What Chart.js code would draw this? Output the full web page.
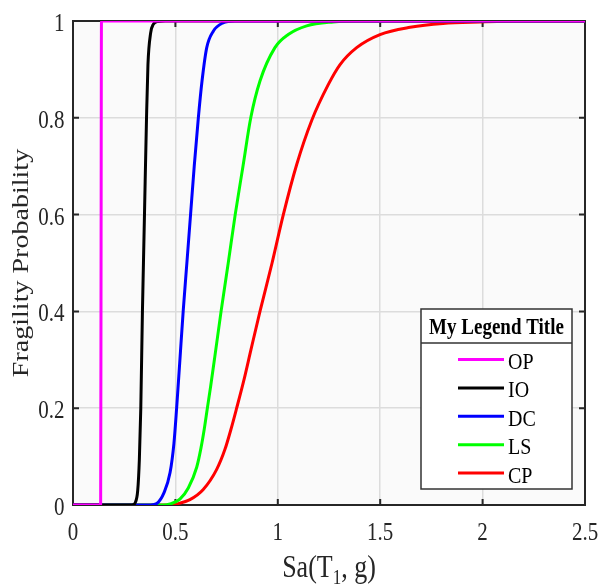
<!DOCTYPE html>
<html>
<head>
  <meta charset="utf-8" />
  <title>Fragility curves</title>
  <style>
html, body { margin: 0; padding: 0; background: #fff; }
#wrap { width: 600px; height: 586px; }
  </style>
</head>
<body>
  <div id="wrap"><canvas id="myChart"></canvas></div>
  <script src="https://cdn.jsdelivr.net/npm/chart.js"></script>
  <script>
// values
const labels = ['OP', 'IO', 'DC', 'LS', 'CP'];
const colors = ['#ff00ff', '#000000', '#0000ff', '#00ff00', '#ff0000'];

const opX = [0, 0.135, 0.137, 0.139, 2.5];
const opY = [0, 0, 0.5, 1, 1];

const ioX = [0, 0.28, 0.295, 0.303, 0.316, 0.324, 0.331, 0.339, 0.344, 0.349, 0.359, 0.366, 0.379, 0.392, 0.415, 0.45, 2.5];
const ioY = [0, 0, 0.001, 0.004, 0.03, 0.094, 0.2, 0.4, 0.5, 0.6, 0.8, 0.91, 0.975, 0.993, 0.999, 1, 1];

const dcX = [0, 0.38, 0.409, 0.444, 0.474, 0.493, 0.506, 0.522, 0.538, 0.556, 0.574, 0.592, 0.612, 0.630, 0.653, 0.685, 0.732, 0.79, 2.5];
const dcY = [0, 0, 0.003, 0.025, 0.067, 0.128, 0.2, 0.3, 0.4, 0.5, 0.6, 0.7, 0.8, 0.876, 0.945, 0.979, 0.996, 1, 1];

const lsX = [0, 0.44, 0.474, 0.522, 0.563, 0.604, 0.625, 0.641, 0.656, 0.672, 0.692, 0.723, 0.758, 0.792, 0.830, 0.868, 0.913, 0.986, 1.051, 1.141, 1.271, 1.40, 2.5];
const lsY = [0, 0, 0.002, 0.012, 0.035, 0.078, 0.118, 0.157, 0.2, 0.245, 0.305, 0.4, 0.5, 0.6, 0.7, 0.8, 0.876, 0.945, 0.972, 0.99, 0.998, 1, 1];

const cpX = [0, 0.47, 0.506, 0.571, 0.636, 0.701, 0.742, 0.771, 0.799, 0.835, 0.869, 0.913, 0.972, 1.027, 1.092, 1.166, 1.247, 1.304, 1.385, 1.499, 1.646, 1.807, 1.987, 2.2, 2.5];
const cpY = [0, 0, 0.002, 0.011, 0.032, 0.073, 0.115, 0.156, 0.2, 0.259, 0.321, 0.4, 0.5, 0.6, 0.703, 0.795, 0.869, 0.910, 0.945, 0.972, 0.987, 0.995, 0.998, 1, 1];

const xTicks = [0, 0.5, 1, 1.5, 2, 2.5];
const yTicks = [0, 0.2, 0.4, 0.6, 0.8, 1];

const legendTitle = 'My Legend Title';
const xTitle = ['Sa(T', '1', ', g)'];  // base, subscript, rest
const yTitle = 'Fragility Probability';

const serif = '"Liberation Serif", "Times New Roman", serif';
const ink = '#262626';
const SY = 1.18; // the reference text is a bit taller than wide

function pts(xs, ys) {
  return xs.map((x, i) => ({x: x, y: ys[i]}));
}
const series = [[opX, opY], [ioX, ioY], [dcX, dcY], [lsX, lsY], [cpX, cpY]];

const datasets = series.map((s, i) => ({
  label: labels[i],
  data: pts(s[0], s[1]),
  borderColor: colors[i],
  backgroundColor: colors[i],
  borderWidth: 3,
  pointRadius: 0,
  fill: false,
  showLine: true,
  cubicInterpolationMode: 'monotone'
}));

// text stretched vertically around its baseline
function tallText(c, text, x, y, font, align, sy) {
  c.save();
  c.translate(x, y);
  c.scale(1, sy);
  c.font = font;
  c.textAlign = align;
  c.textBaseline = 'alphabetic';
  c.fillText(text, 0, 0);
  c.restore();
}

const framePlugin = {
  id: 'frame',
  beforeDraw(chart) {
    const a = chart.chartArea, c = chart.ctx;
    c.save();
    c.fillStyle = '#fafafa';
    c.fillRect(a.left, a.top, a.right - a.left, a.bottom - a.top);
    c.restore();
  },
  beforeDatasetsDraw(chart) {
    const a = chart.chartArea, c = chart.ctx;
    const sx = chart.scales.x, sy = chart.scales.y;
    c.save();
    c.strokeStyle = ink;
    c.lineWidth = 2;
    c.strokeRect(a.left, a.top, a.right - a.left, a.bottom - a.top);
    c.beginPath();
    xTicks.forEach(v => {
      const px = sx.getPixelForValue(v);
      c.moveTo(px, a.bottom); c.lineTo(px, a.bottom - 6);
      c.moveTo(px, a.top); c.lineTo(px, a.top + 6);
    });
    yTicks.forEach(v => {
      const py = sy.getPixelForValue(v);
      c.moveTo(a.left, py); c.lineTo(a.left + 6, py);
      c.moveTo(a.right, py); c.lineTo(a.right - 6, py);
    });
    c.stroke();

    // tick labels
    c.fillStyle = ink;
    const tf = '21px ' + serif;
    xTicks.forEach(v => {
      tallText(c, String(v), sx.getPixelForValue(v), a.bottom + 34.5, tf, 'center', SY);
    });
    yTicks.forEach(v => {
      tallText(c, String(v), a.left - 8.5, sy.getPixelForValue(v) + 10, tf, 'right', SY);
    });

    // y title, rotated
    c.save();
    c.translate(28, (a.top + a.bottom) / 2);
    c.rotate(-Math.PI / 2);
    c.scale(1.22, 1);
    c.font = '23px ' + serif;
    c.textAlign = 'center';
    c.textBaseline = 'alphabetic';
    c.fillText(yTitle, 0, 0);
    c.restore();

    // x title with subscript
    const bf = '26px ' + serif, sf = '17px ' + serif;
    c.font = bf;
    const w0 = c.measureText(xTitle[0]).width, w2 = c.measureText(xTitle[2]).width;
    c.font = sf;
    const w1 = c.measureText(xTitle[1]).width;
    let x = (a.left + a.right) / 2 - (w0 + w1 + w2) / 2;
    const base = 577;
    tallText(c, xTitle[0], x, base, bf, 'left', 1.25);
    tallText(c, xTitle[1], x + w0, base + 7, sf, 'left', 1.2);
    tallText(c, xTitle[2], x + w0 + w1, base, bf, 'left', 1.25);
    c.restore();
  },
  afterDraw(chart) {
    // boxed legend with a title
    const c = chart.ctx;
    const x0 = 421, y0 = 309, w = 151, h = 180, sep = 343;
    c.save();
    c.fillStyle = '#ffffff';
    c.fillRect(x0, y0, w, h);
    c.strokeStyle = '#333333';
    c.lineWidth = 1.5;
    c.strokeRect(x0, y0, w, h);
    c.beginPath();
    c.moveTo(x0, sep); c.lineTo(x0 + w, sep);
    c.stroke();
    c.fillStyle = '#000';
    tallText(c, legendTitle, x0 + w / 2, 333.5, 'bold 19px ' + serif, 'center', 1.17);
    chart.data.datasets.forEach((d, i) => {
      const yy = 359.5 + i * 28.4;
      c.strokeStyle = d.borderColor;
      c.lineWidth = 3;
      c.beginPath();
      c.moveTo(458, yy); c.lineTo(504, yy);
      c.stroke();
      c.fillStyle = '#000';
      tallText(c, d.label, 508, yy + 9.5, '20px ' + serif, 'left', 1.14);
    });
    c.restore();
  }
};

const config = {
  type: 'scatter',
  data: {datasets: datasets},
  options: {
    responsive: true,
    maintainAspectRatio: false,
    animation: false,
    layout: {padding: {top: 21, right: 15, left: 0, bottom: 0}},
    plugins: {legend: {display: false}, tooltip: {enabled: false}},
    scales: {
      x: {
        type: 'linear',
        min: 0, max: 2.5,
        afterFit: s => { s.height = 81; s.paddingLeft = 0; s.paddingRight = 0; },
        afterBuildTicks: s => { s.ticks = xTicks.map(v => ({value: v})); },
        grid: {color: '#dcdcdc', lineWidth: 1.5, drawTicks: false},
        border: {display: false},
        ticks: {display: false}
      },
      y: {
        type: 'linear',
        min: 0, max: 1,
        afterFit: s => { s.width = 73; s.paddingTop = 0; s.paddingBottom = 0; },
        afterBuildTicks: s => { s.ticks = yTicks.map(v => ({value: v})); },
        grid: {color: '#dcdcdc', lineWidth: 1.5, drawTicks: false},
        border: {display: false},
        ticks: {display: false}
      }
    }
  },
  plugins: [framePlugin]
};
const chart = new Chart(document.getElementById('myChart'), config);
  </script>
</body>
</html>
